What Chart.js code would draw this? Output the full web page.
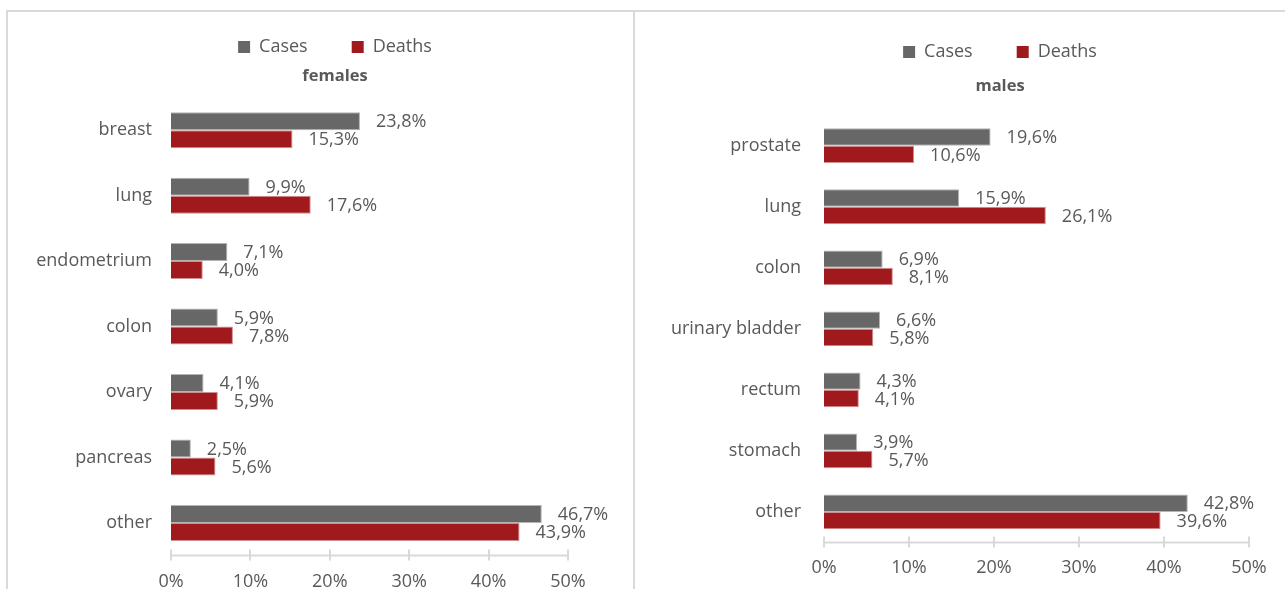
<!DOCTYPE html>
<html>
<head>
<meta charset="utf-8">
<title>Cancer cases and deaths by site</title>
<script src="https://cdn.jsdelivr.net/npm/chart.js@4.4.0/dist/chart.umd.min.js"></script>
<style>
  body { margin: 0; background: #fff; width: 1285px; height: 589px; overflow: hidden; position: relative; }
  #frame { position: absolute; left: 6px; top: 10px; width: 1300px; height: 620px; border: 2px solid #d9d9d9; }
  #divider { position: absolute; left: 633px; top: 10px; width: 2px; height: 620px; background: #d9d9d9; }
  #wrapF { position: absolute; left: 8px; top: 0; }
  #wrapM { position: absolute; left: 635px; top: 0; }
</style>
</head>
<body>
<div id="frame"></div>
<div id="divider"></div>
<div id="wrapM"><canvas id="malesChart" width="730" height="594"></canvas></div>
<div id="wrapF"><canvas id="femalesChart" width="654" height="608"></canvas></div>

<script>
// share of new cases / deaths per site, in %
const femaleSites = ['breast', 'lung', 'endometrium', 'colon', 'ovary', 'pancreas', 'other'];
const femaleCases = [23.8, 9.9, 7.1, 5.9, 4.1, 2.5, 46.7];
const femaleDeaths = [15.3, 17.6, 4.0, 7.8, 5.9, 5.6, 43.9];

const maleSites = ['prostate', 'lung', 'colon', 'urinary bladder', 'rectum', 'stomach', 'other'];
const maleCases = [19.6, 15.9, 6.9, 6.6, 4.3, 3.9, 42.8];
const maleDeaths = [10.6, 26.1, 8.1, 5.8, 4.1, 5.7, 39.6];

const xTicks = [0, 10, 20, 30, 40, 50];

const TEXT = '#595959';
const GREY = '#676767';
const RED = '#a01a1d';
const AXIS = '#d9d9d9';
const FONT = '"Open Sans", Lato, sans-serif';

Chart.defaults.font.family = FONT;
Chart.defaults.color = TEXT;

function pct(v) {
    return v.toFixed(1).replace('.', ',') + '%';
}

// value labels to the right of each bar end
const valueLabels = {
    id: 'valueLabels',
    afterDatasetsDraw(chart) {
        const ctx = chart.ctx;
        ctx.save();
        ctx.font = '18px ' + FONT;
        ctx.fillStyle = TEXT;
        ctx.textAlign = 'left';
        ctx.textBaseline = 'middle';
        chart.data.datasets.forEach((ds, i) => {
            chart.getDatasetMeta(i).data.forEach((bar, j) => {
                ctx.fillText(pct(ds.data[j]), bar.x + 16, bar.y + 1);
            });
        });
        ctx.restore();
    }
};

// horizontal axis line with cross ticks along the bottom of the plot area
const axisLine = {
    id: 'axisLine',
    afterDraw(chart) {
        const x = chart.scales.x;
        const y0 = chart.chartArea.bottom;
        const ctx = chart.ctx;
        ctx.save();
        ctx.strokeStyle = AXIS;
        ctx.lineWidth = 2;
        ctx.beginPath();
        ctx.moveTo(x.getPixelForValue(x.min), y0);
        ctx.lineTo(x.getPixelForValue(x.max), y0);
        xTicks.forEach(t => {
            const px = Math.round(x.getPixelForValue(t));
            ctx.moveTo(px, y0 - 6);
            ctx.lineTo(px, y0 + 5);
        });
        ctx.stroke();
        ctx.restore();
    }
};

function makeChart(id, cfg) {
    return new Chart(document.getElementById(id), {
        type: 'bar',
        data: {
            labels: cfg.labels,
            datasets: [
                { label: 'Cases', data: cfg.cases, backgroundColor: GREY, borderColor: '#b4b4b4', borderWidth: 1 },
                { label: 'Deaths', data: cfg.deaths, backgroundColor: RED, borderColor: '#d08f91', borderWidth: 1 }
            ]
        },
        options: {
            indexAxis: 'y',
            responsive: false,
            animation: false,
            categoryPercentage: cfg.catPct,
            barPercentage: 1,
            layout: { padding: { top: cfg.padTop, left: 0, right: 0, bottom: 0 } },
            plugins: {
                legend: {
                    position: 'top',
                    weight: 3000,
                    labels: {
                        boxWidth: 12,
                        boxHeight: 12,
                        padding: 44,
                        color: TEXT,
                        font: { size: 18 },
                        generateLabels(chart) {
                            return chart.data.datasets.map((ds, i) => ({
                                text: ds.label,
                                fillStyle: ds.backgroundColor,
                                strokeStyle: ds.backgroundColor,
                                lineWidth: 0,
                                fontColor: TEXT,
                                datasetIndex: i
                            }));
                        }
                    }
                },
                title: {
                    display: true,
                    text: cfg.title,
                    color: TEXT,
                    font: { size: 16.5, weight: 'bold' },
                    padding: cfg.titlePadding
                },
                tooltip: { enabled: false }
            },
            scales: {
                x: {
                    min: 0,
                    max: 50,
                    afterBuildTicks(scale) {
                        scale.ticks = xTicks.map(v => ({ value: v }));
                    },
                    ticks: {
                        callback: v => v + '%',
                        padding: cfg.xPad,
                        color: TEXT,
                        font: { size: 18 }
                    },
                    grid: { display: false, drawTicks: false },
                    border: { display: false }
                },
                y: {
                    ticks: { padding: cfg.yPad, color: TEXT, font: { size: 18 } },
                    grid: { display: false, drawTicks: false },
                    border: { display: false },
                    afterFit(scale) { scale.width = cfg.yWidth; }
                },
                // empty strip on the right, keeps the heading centred over the panel
                side: {
                    type: 'linear',
                    position: 'right',
                    ticks: { display: false },
                    grid: { display: false, drawTicks: false },
                    border: { display: false },
                    afterFit(scale) { scale.width = cfg.sideWidth; }
                }
            }
        },
        plugins: [valueLabels, axisLine]
    });
}

makeChart('femalesChart', {
    labels: femaleSites,
    cases: femaleCases,
    deaths: femaleDeaths,
    title: 'females',
    catPct: 0.55,
    padTop: -6,
    titlePadding: { top: 0, bottom: 11.7 },
    xPad: 15.4,
    yPad: 19,
    yWidth: 163,
    sideWidth: 94
});

makeChart('malesChart', {
    labels: maleSites,
    cases: maleCases,
    deaths: maleDeaths,
    title: 'males',
    catPct: 0.57,
    padTop: -1,
    titlePadding: { top: 5, bottom: 19.4 },
    xPad: 15,
    yPad: 23,
    yWidth: 189,
    sideWidth: 116
});
</script>
</body>
</html>
